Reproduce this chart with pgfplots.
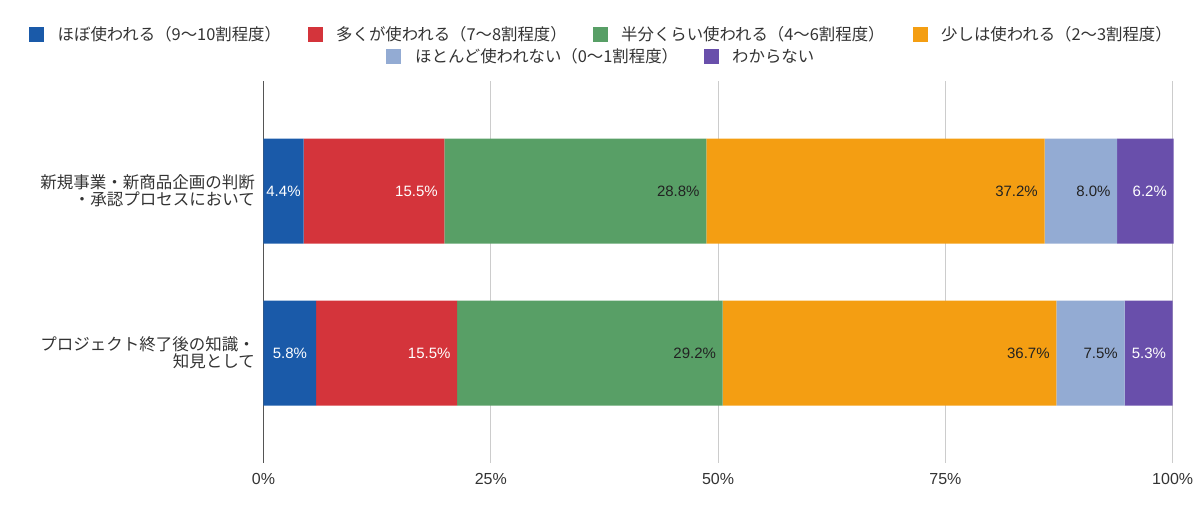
\documentclass[border=0pt]{standalone}
\usepackage{pgfplots}
\pgfplotsset{compat=1.18}
\usepackage{pgfplotstable}
\usepackage{fontspec}
\setmainfont{Liberation Sans}
\newfontfamily\jp{Noto Sans CJK JP}
\definecolor{c1}{HTML}{1A5AA9}
\definecolor{c2}{HTML}{D4343B}
\definecolor{c3}{HTML}{589F66}
\definecolor{c4}{HTML}{F49E12}
\definecolor{c5}{HTML}{93ABD3}
\definecolor{c6}{HTML}{694FAB}
\definecolor{txt}{HTML}{333333}
\definecolor{dark}{HTML}{222222}
\definecolor{axisc}{HTML}{555555}
\definecolor{gridc}{HTML}{CCCCCC}
\pgfplotstableread{
cat v1 v2 v3 v4 v5 v6
0 4.4 15.5 28.8 37.2 8.0 6.2
1 5.8 15.5 29.2 36.7 7.5 5.3
}\data
\begin{document}
\begin{tikzpicture}
\path[use as bounding box] (0,0) rectangle (1200pt,514pt);
\begin{axis}[
 at={(263.5pt,50.7pt)}, anchor=south west,
 scale only axis, width=909.2pt, height=382.3pt,
 xbar stacked, bar width=105pt,
 xmin=0, xmax=100, ymin=-0.68, ymax=1.68, y dir=reverse,
 clip=false,
 xtick={0,25,50,75,100}, xticklabels={0\%,25\%,50\%,75\%,100\%},
 ytick={0,1},
 yticklabels={{新規事業・新商品企画の判断\\・承認プロセスにおいて},{プロジェクト終了後の知識・\\知見として}},
 axis lines*=left,
 x axis line style={draw=none},
 y axis line style={draw=axisc, line width=1.3pt},
 major tick length=0pt,
 xmajorgrids, grid style={draw=gridc, line width=0.9pt},
 /pgf/number format/assume math mode=true,
 xticklabel style={font=\fontsize{16}{18}\selectfont, text=txt, inner sep=0pt, yshift=-10pt},
 yticklabel style={font=\jp\fontsize{16.5}{17}\selectfont, text=txt, align=right, inner sep=0pt, xshift=-8.5pt},
 point meta=explicit,
 nodes near coords={\pgfmathprintnumber[fixed,precision=1,fixed zerofill]{\pgfplotspointmeta}\%},
 every node near coord/.append style={font=\fontsize{15}{17}\selectfont, inner sep=0pt},
 endlbl/.style={visualization depends on={\thisrow{#1} \as \rawx},
   nodes near coords style={anchor=east, xshift=\rawx*4.546pt-6.5pt}},
]
\addplot[fill=c1, draw=none,
  nodes near coords style={text=white, anchor=center}]
  table[x=v1, y=cat, meta=v1] {\data};
\addplot[fill=c2, draw=none, endlbl=v2, nodes near coords style={text=white}]
  table[x=v2, y=cat, meta=v2] {\data};
\addplot[fill=c3, draw=none, endlbl=v3, nodes near coords style={text=dark}]
  table[x=v3, y=cat, meta=v3] {\data};
\addplot[fill=c4, draw=none, endlbl=v4, nodes near coords style={text=dark}]
  table[x=v4, y=cat, meta=v4] {\data};
\addplot[fill=c5, draw=none, endlbl=v5, nodes near coords style={text=dark}]
  table[x=v5, y=cat, meta=v5] {\data};
\addplot[fill=c6, draw=none, endlbl=v6, nodes near coords style={text=white}]
  table[x=v6, y=cat, meta=v6] {\data};
\end{axis}
\tikzset{lg/.style={anchor=west, inner sep=0pt, text=txt, font=\jp\fontsize{16.4}{18}\selectfont}}
\fill[c1] (28.5pt,472pt) rectangle ++(15pt,15pt);
\node[lg] at (57.5pt,479.5pt) {ほぼ使われる（9〜10割程度）};
\fill[c2] (307.5pt,472pt) rectangle ++(15pt,15pt);
\node[lg] at (336pt,479.5pt) {多くが使われる（7〜8割程度）};
\fill[c3] (592.5pt,472pt) rectangle ++(15pt,15pt);
\node[lg] at (621pt,479.5pt) {半分くらい使われる（4〜6割程度）};
\fill[c4] (912.5pt,472pt) rectangle ++(15pt,15pt);
\node[lg] at (941pt,479.5pt) {少しは使われる（2〜3割程度）};
\fill[c5] (385.5pt,450pt) rectangle ++(15pt,15pt);
\node[lg] at (415pt,457.5pt) {ほとんど使われない（0〜1割程度）};
\fill[c6] (703.5pt,450pt) rectangle ++(15pt,15pt);
\node[lg] at (732pt,457.5pt) {わからない};
\end{tikzpicture}
\end{document}
